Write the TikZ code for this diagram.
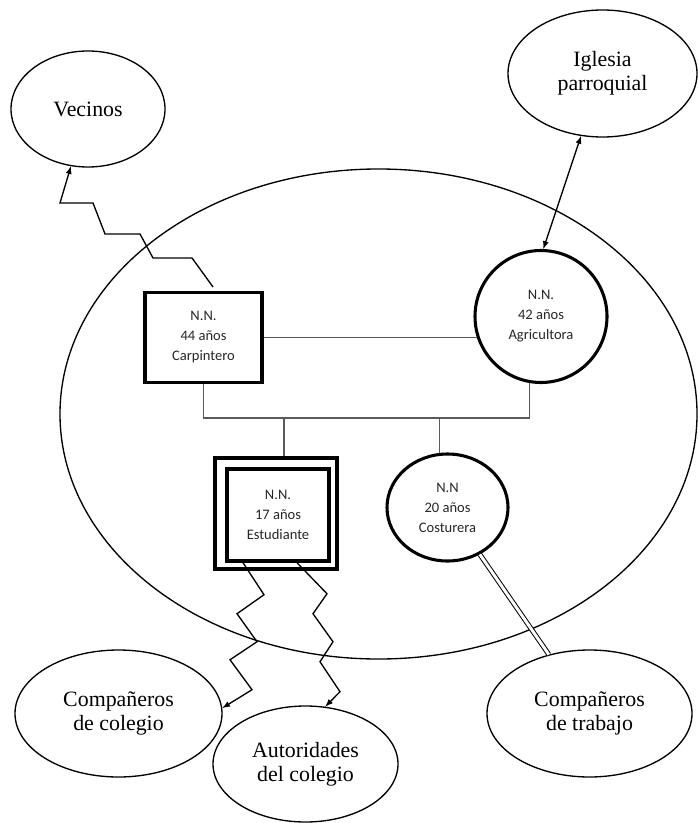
\documentclass[tikz,border=0pt]{standalone}
\usepackage{fontspec}
\setmainfont{Liberation Serif}
\newfontfamily\carlito{Carlito}
\usetikzlibrary{shapes.geometric}

\begin{document}
\begin{tikzpicture}[x = {(0.75pt,0pt)},
  y = {(0pt,-0.75pt)},
  place/.style={ellipse, draw, line width=1pt, inner sep=0pt,
    align=center, font=\fontsize{16.4}{18}\selectfont},
  member/.style={draw, line width=2.3pt, inner sep=0pt, align=center,
    text=black!85, font=\carlito\fontsize{10.9}{15}\selectfont},
  kin/.style={line width=0.9pt, color=black!65},
  tie/.style={line width=1pt},
  >=latex]

  \useasboundingbox (0,0) rectangle (698,823);

  % family circle
  \node[ellipse, draw, line width=1pt, inner sep=0pt,
  minimum width=477.75pt, minimum height=367.5pt] (eco) at (378.5,414) {};

  % outside
  \node[place, minimum width=115.5pt, minimum height=87pt] (vecinos) at (88,109) {Vecinos};
  \node[place, minimum width=141.75pt, minimum height=95.25pt] (iglesia) at (602.5,73.5) {Iglesia\\parroquial};
  \node[place, minimum width=155.25pt, minimum height=95.25pt] (colegio) at (118.5,713.5) {Compañeros\\de colegio};
  \node[place, minimum width=138.75pt, minimum height=87pt] (autoridades) at (305.5,764) {Autoridades\\del colegio};
  \node[place, minimum width=153.75pt, minimum height=95.25pt] (trabajo) at (589.5,713.5) {Compañeros\\de trabajo};

  % members
  \node[member, rectangle, minimum width=87.75pt, minimum height=67.5pt] (padre) at (203.5,337.5) {N.N.\\44 años\\Carpintero};
  \node[member, circle, minimum size=99pt] (madre) at (541,316.5) {N.N.\\42 años\\Agricultora};
  \node[member, rectangle, line width=2.6pt, minimum width=76.5pt, minimum height=69pt] (hijo) at (278,515) {N.N.\\17 años\\Estudiante};
  \node[draw, line width=2.3pt, inner sep=0pt, minimum width=91.5pt, minimum height=83.25pt] (hijomarco) at (276,513.5) {};
  \node[member, ellipse, minimum width=90.75pt, minimum height=80.25pt] (hija) at (447.5,507.5) {N.N\\20 años\\Costurera};

  % couple and children
  \coordinate (bar) at (0,418);
  \coordinate (hijotop) at ([xshift=6pt]hijomarco.north);
  \draw[kin] (padre.east) -- (padre.east -| madre.198);
  \draw[kin] (padre.south) |- (madre.260 |- bar) -- (madre.260);
  \draw[kin] (hijotop |- bar) -- (hijotop);
  \draw[kin] (hija.98 |- bar) -- (hija.98);

  % relations
  \draw[tie, ->] ([shift={(9.5,-4)}]padre.north) -- ++(-21,-29) -- ++(-39,0)
  -- ++(-13,-24) -- ++(-35,0) -- ++(-12,-31) -- ++(-33,0) -- (vecinos);
  \draw[tie, <->] (iglesia.251) -- (madre.88);
  \draw[tie, ->] ([shift={(-35,0)}]hijo.south) -- ++(21,32) -- ++(-27,19)
  -- ++(20,28) -- ++(-27,18) -- ++(22,30) -- (colegio.3);
  \draw[tie, ->] ([shift={(19,0)}]hijo.south) -- ++(30,31) -- ++(-14,20)
  -- ++(20,28) -- ++(-13,20) -- ++(20,30) -- (autoridades.71);
  \draw[double, line width=0.75pt, double distance=2.2pt] (hija) -- (trabajo);

\end{tikzpicture}
\end{document}
